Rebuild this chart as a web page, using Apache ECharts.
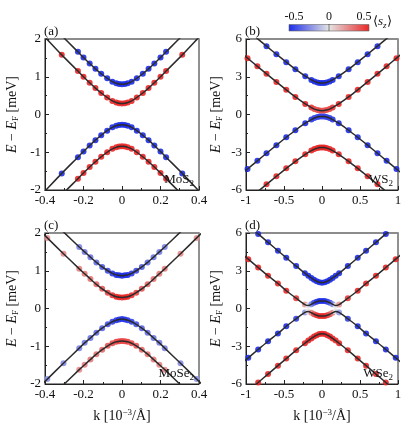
<!DOCTYPE html>
<html>
<head>
<meta charset="utf-8">
<script src="https://cdn.jsdelivr.net/npm/echarts@6/dist/echarts.min.js"></script>
<style>
html, body { margin: 0; padding: 0; background: #fff; }
#chart { width: 411px; height: 442px; }
</style>
</head>
<body>
<div id="chart"></div>
<script>
// k values in 10^-3 / Å (outermost points only extend the curves past the frame)
var kA = [-0.45, -0.4, -0.313, -0.229, -0.2, -0.168, -0.138, -0.108, -0.077, -0.05, -0.03, -0.015, 0, 0.015, 0.03, 0.05, 0.077, 0.108, 0.138, 0.168, 0.2, 0.229, 0.313, 0.4, 0.45];
var kB = [-1.1, -0.98, -0.85, -0.73, -0.6, -0.47, -0.35, -0.22, -0.14, -0.1, -0.06, -0.03, 0, 0.03, 0.06, 0.1, 0.14, 0.22, 0.35, 0.47, 0.6, 0.73, 0.85, 0.98, 1.1];
var kC = [-0.45, -0.388, -0.304, -0.222, -0.194, -0.164, -0.133, -0.103, -0.074, -0.05, -0.03, -0.015, 0, 0.015, 0.03, 0.05, 0.074, 0.103, 0.133, 0.164, 0.194, 0.222, 0.304, 0.388, 0.45];
var kD = [-1.1, -0.97, -0.84, -0.71, -0.58, -0.47, -0.34, -0.225, -0.18, -0.14, -0.105, -0.07, -0.035, 0, 0.035, 0.07, 0.105, 0.14, 0.18, 0.225, 0.34, 0.47, 0.58, 0.71, 0.84, 0.97, 1.1];

// (a) MoS2 bands, meV
var aBlueC = [2.83, 2.56, 2.09, 1.66, 1.51, 1.35, 1.21, 1.08, 0.96, 0.87, 0.83, 0.81, 0.80, 0.81, 0.83, 0.87, 0.96, 1.08, 1.21, 1.35, 1.51, 1.66, 2.09, 2.56, 2.83];
var aRedC = [2.32, 2.05, 1.58, 1.15, 1.00, 0.84, 0.70, 0.57, 0.45, 0.36, 0.32, 0.30, 0.29, 0.30, 0.32, 0.36, 0.45, 0.57, 0.70, 0.84, 1.00, 1.15, 1.58, 2.05, 2.32];
var aBlueV = [-2.30, -2.03, -1.56, -1.13, -0.98, -0.82, -0.68, -0.55, -0.43, -0.34, -0.30, -0.28, -0.27, -0.28, -0.30, -0.34, -0.43, -0.55, -0.68, -0.82, -0.98, -1.13, -1.56, -2.03, -2.30];
var aRedV = [-2.87, -2.60, -2.13, -1.70, -1.55, -1.39, -1.25, -1.12, -1.00, -0.91, -0.87, -0.85, -0.84, -0.85, -0.87, -0.91, -1.00, -1.12, -1.25, -1.39, -1.55, -1.70, -2.13, -2.60, -2.87];

// (b) WS2
var bBlueC = [7.28, 6.68, 6.03, 5.43, 4.79, 4.16, 3.60, 3.04, 2.75, 2.63, 2.55, 2.51, 2.50, 2.51, 2.55, 2.63, 2.75, 3.04, 3.60, 4.16, 4.79, 5.43, 6.03, 6.68, 7.28];
var bRedC = [5.08, 4.48, 3.83, 3.23, 2.59, 1.96, 1.40, 0.84, 0.55, 0.43, 0.35, 0.31, 0.30, 0.31, 0.35, 0.43, 0.55, 0.84, 1.40, 1.96, 2.59, 3.23, 3.83, 4.48, 5.08];
var bBlueV = [-4.93, -4.33, -3.68, -3.08, -2.44, -1.81, -1.25, -0.69, -0.40, -0.28, -0.20, -0.16, -0.15, -0.16, -0.20, -0.28, -0.40, -0.69, -1.25, -1.81, -2.44, -3.08, -3.68, -4.33, -4.93];
var bRedV = [-7.40, -6.80, -6.15, -5.55, -4.91, -4.28, -3.72, -3.16, -2.87, -2.75, -2.67, -2.63, -2.62, -2.63, -2.67, -2.75, -2.87, -3.16, -3.72, -4.28, -4.91, -5.55, -6.15, -6.80, -7.40];

// (c) MoSe2
var cBlueC = [2.76, 2.45, 2.03, 1.63, 1.50, 1.36, 1.22, 1.10, 1.00, 0.93, 0.89, 0.88, 0.87, 0.88, 0.89, 0.93, 1.00, 1.10, 1.22, 1.36, 1.50, 1.63, 2.03, 2.45, 2.76];
var cRedC = [2.18, 1.87, 1.45, 1.05, 0.92, 0.78, 0.64, 0.52, 0.42, 0.35, 0.31, 0.30, 0.29, 0.30, 0.31, 0.35, 0.42, 0.52, 0.64, 0.78, 0.92, 1.05, 1.45, 1.87, 2.18];
var cBlueV = [-2.18, -1.87, -1.45, -1.05, -0.91, -0.78, -0.64, -0.52, -0.42, -0.35, -0.31, -0.29, -0.28, -0.29, -0.31, -0.35, -0.42, -0.52, -0.64, -0.78, -0.91, -1.05, -1.45, -1.87, -2.18];
var cRedV = [-2.75, -2.44, -2.02, -1.62, -1.49, -1.35, -1.21, -1.09, -0.99, -0.92, -0.88, -0.87, -0.86, -0.87, -0.88, -0.92, -0.99, -1.09, -1.21, -1.35, -1.49, -1.62, -2.02, -2.44, -2.75];

// (d) WSe2
var dBlueC = [7.27, 6.60, 5.93, 5.26, 4.59, 4.03, 3.37, 2.81, 2.60, 2.43, 2.28, 2.17, 2.08, 2.05, 2.08, 2.17, 2.28, 2.43, 2.60, 2.81, 3.37, 4.03, 4.59, 5.26, 5.93, 6.60, 7.27];
var dMixC = [4.58, 3.92, 3.26, 2.60, 1.99, 1.41, 0.82, 0.31, 0.23, 0.34, 0.46, 0.54, 0.59, 0.60, 0.59, 0.54, 0.46, 0.34, 0.23, 0.31, 0.82, 1.41, 1.99, 2.60, 3.26, 3.92, 4.58];
var dMixV = [-4.58, -3.92, -3.26, -2.60, -1.99, -1.41, -0.82, -0.31, -0.23, -0.34, -0.46, -0.54, -0.59, -0.60, -0.59, -0.54, -0.46, -0.34, -0.23, -0.31, -0.82, -1.41, -1.99, -2.60, -3.26, -3.92, -4.58];
var dRedV = [-7.22, -6.55, -5.88, -5.21, -4.54, -3.98, -3.32, -2.76, -2.55, -2.38, -2.23, -2.12, -2.03, -2.00, -2.03, -2.12, -2.23, -2.38, -2.55, -2.76, -3.32, -3.98, -4.54, -5.21, -5.88, -6.55, -7.22];

// <s_z> of the marked points (inner points of each band)
var sA_blueC = [-0.5, -0.5, -0.5, -0.5, -0.5, -0.5, -0.5, -0.5, -0.5, -0.5, -0.5, -0.5, -0.5, -0.5, -0.5, -0.5, -0.5, -0.5, -0.5, -0.5, -0.5];
var sA_redC = [0.5, 0.5, 0.5, 0.5, 0.5, 0.5, 0.5, 0.5, 0.5, 0.5, 0.5, 0.5, 0.5, 0.5, 0.5, 0.5, 0.5, 0.5, 0.5, 0.5, 0.5];
var sA_blueV = [-0.5, -0.5, -0.5, -0.5, -0.5, -0.5, -0.5, -0.5, -0.5, -0.5, -0.5, -0.5, -0.5, -0.5, -0.5, -0.5, -0.5, -0.5, -0.5, -0.5, -0.5];
var sA_redV = [0.5, 0.5, 0.5, 0.5, 0.5, 0.5, 0.5, 0.5, 0.5, 0.5, 0.5, 0.5, 0.5, 0.5, 0.5, 0.5, 0.5, 0.5, 0.5, 0.5, 0.5];

var sB_blueC = [-0.5, -0.5, -0.5, -0.5, -0.5, -0.5, -0.5, -0.5, -0.5, -0.5, -0.5, -0.5, -0.5, -0.5, -0.5, -0.5, -0.5, -0.5, -0.5, -0.5, -0.5, -0.5, -0.5];
var sB_redC = [0.5, 0.5, 0.5, 0.5, 0.5, 0.5, 0.5, 0.46, 0.42, 0.4, 0.4, 0.4, 0.4, 0.4, 0.42, 0.46, 0.5, 0.5, 0.5, 0.5, 0.5, 0.5, 0.5];
var sB_blueV = [-0.5, -0.5, -0.5, -0.5, -0.5, -0.5, -0.5, -0.47, -0.45, -0.44, -0.44, -0.44, -0.44, -0.44, -0.45, -0.47, -0.5, -0.5, -0.5, -0.5, -0.5, -0.5, -0.5];
var sB_redV = [0.5, 0.5, 0.5, 0.5, 0.5, 0.5, 0.5, 0.5, 0.5, 0.5, 0.5, 0.5, 0.5, 0.5, 0.5, 0.5, 0.5, 0.5, 0.5, 0.5, 0.5, 0.5, 0.5];

var sC_blueC = [-0.22, -0.24, -0.26, -0.28, -0.3, -0.33, -0.37, -0.42, -0.47, -0.5, -0.5, -0.5, -0.5, -0.5, -0.47, -0.42, -0.37, -0.33, -0.3, -0.28, -0.26, -0.24, -0.22];
var sC_redC = [0.22, 0.24, 0.26, 0.28, 0.3, 0.33, 0.37, 0.42, 0.47, 0.5, 0.5, 0.5, 0.5, 0.5, 0.47, 0.42, 0.37, 0.33, 0.3, 0.28, 0.26, 0.24, 0.22];
var sC_blueV = [-0.22, -0.24, -0.26, -0.28, -0.3, -0.32, -0.35, -0.4, -0.44, -0.47, -0.48, -0.48, -0.48, -0.47, -0.44, -0.4, -0.35, -0.32, -0.3, -0.28, -0.26, -0.24, -0.22];
var sC_redV = [0.2, 0.22, 0.24, 0.26, 0.28, 0.3, 0.33, 0.37, 0.4, 0.42, 0.43, 0.43, 0.43, 0.42, 0.4, 0.37, 0.33, 0.3, 0.28, 0.26, 0.24, 0.22, 0.2];

var sD_blueC = [-0.5, -0.5, -0.5, -0.5, -0.5, -0.5, -0.5, -0.5, -0.5, -0.5, -0.5, -0.5, -0.5, -0.5, -0.5, -0.5, -0.5, -0.5, -0.5, -0.5, -0.5, -0.5, -0.5, -0.5, -0.5];
var sD_mixC = [0.5, 0.5, 0.5, 0.5, 0.5, 0.45, 0.2, 0, -0.25, -0.4, -0.47, -0.5, -0.5, -0.5, -0.47, -0.4, -0.25, 0, 0.2, 0.45, 0.5, 0.5, 0.5, 0.5, 0.5];
var sD_mixV = [-0.5, -0.5, -0.5, -0.5, -0.5, -0.45, -0.2, 0, 0.25, 0.4, 0.47, 0.5, 0.5, 0.5, 0.47, 0.4, 0.25, 0, -0.2, -0.45, -0.5, -0.5, -0.5, -0.5, -0.5];
var sD_redV = [0.5, 0.5, 0.5, 0.5, 0.5, 0.5, 0.5, 0.5, 0.5, 0.5, 0.5, 0.5, 0.5, 0.5, 0.5, 0.5, 0.5, 0.5, 0.5, 0.5, 0.5, 0.5, 0.5, 0.5, 0.5];

// axis ticks
var xTicksMo = [-0.4, -0.2, 0, 0.2, 0.4];
var xTicksW = [-1, -0.5, 0, 0.5, 1];
var yTicksMo = [-2, -1, 0, 1, 2];
var yTicksW = [-6, -3, 0, 3, 6];
var materials = ['MoS{s|2}', 'WS{s|2}', 'MoSe{s|2}', 'WSe{s|2}'];
var panelTags = ['(a)', '(b)', '(c)', '(d)'];
var spinTicks = ['-0.5', '0', '0.5'];

var FONT = 'Liberation Serif';
var spinColors = ['#1c2ce8', '#e4e4e4', '#ea2626'];

var panels = [
  { k: kA, pad: 2, xt: xTicksMo, yt: yTicksMo, rect: [45, 39, 154, 151],
    bands: [[aBlueC, sA_blueC], [aRedC, sA_redC], [aBlueV, sA_blueV], [aRedV, sA_redV]] },
  { k: kB, pad: 1, xt: xTicksW, yt: yTicksW, rect: [246, 39, 152, 151],
    bands: [[bBlueC, sB_blueC], [bRedC, sB_redC], [bBlueV, sB_blueV], [bRedV, sB_redV]] },
  { k: kC, pad: 1, xt: xTicksMo, yt: yTicksMo, rect: [45, 233, 154, 151],
    bands: [[cBlueC, sC_blueC], [cRedC, sC_redC], [cBlueV, sC_blueV], [cRedV, sC_redV]] },
  { k: kD, pad: 1, xt: xTicksW, yt: yTicksW, rect: [246, 233, 152, 151],
    bands: [[dBlueC, sD_blueC], [dMixC, sD_mixC], [dMixV, sD_mixV], [dRedV, sD_redV]] }
];

var grids = [], xAxes = [], yAxes = [], series = [], dotSeries = [], graphics = [];

var subRich = { fontFamily: FONT, fontSize: 9, color: '#111', padding: [7, 0, 0, 0] };

panels.forEach(function (p, g) {
  var r = p.rect;
  grids.push({ left: r[0], top: r[1], width: r[2], height: r[3], show: true,
    borderColor: '#222', borderWidth: 1, containLabel: false });

  var bottomRow = g >= 2;
  xAxes.push({
    type: 'value', gridIndex: g, position: 'bottom',
    min: p.xt[0], max: p.xt[p.xt.length - 1], interval: p.xt[1] - p.xt[0],
    axisLine: { onZero: false, lineStyle: { color: '#222', width: 1 } },
    axisTick: { inside: true, length: 4, lineStyle: { color: '#222' } },
    minorTick: { show: true, splitNumber: 2, length: 2, lineStyle: { color: '#222' } },
    splitLine: { show: false },
    axisLabel: { margin: 4, fontFamily: FONT, fontSize: 13, color: '#111' },
    name: bottomRow ? 'k [10{sup|\u22123}/\u00c5]' : '',
    nameLocation: 'middle', nameGap: 24,
    nameTextStyle: { fontFamily: FONT, fontSize: 14, color: '#111',
      rich: { sup: { fontFamily: FONT, fontSize: 9, color: '#111', padding: [0, 0, 8, 0] } } }
  });
  yAxes.push({
    type: 'value', gridIndex: g,
    min: p.yt[0], max: p.yt[p.yt.length - 1], interval: p.yt[1] - p.yt[0],
    axisLine: { onZero: false, lineStyle: { color: '#222', width: 1 } },
    axisTick: { inside: true, length: 4, lineStyle: { color: '#222' } },
    minorTick: { show: true, splitNumber: 2, length: 2, lineStyle: { color: '#222' } },
    splitLine: { show: false },
    axisLabel: { margin: 4, fontFamily: FONT, fontSize: 13, color: '#111' },
    name: '{it|E} \u2212 {it|E}{sub|F} [meV]',
    nameLocation: 'middle', nameGap: g % 2 ? 22 : 25, nameRotate: 90,
    nameTextStyle: { fontFamily: FONT, fontSize: 14, color: '#111',
      rich: { it: { fontFamily: FONT, fontSize: 14, fontStyle: 'italic', color: '#111' }, sub: subRich } }
  });

  p.bands.forEach(function (b) {
    var E = b[0], sz = b[1];
    var line = p.k.map(function (k, i) { return [k, E[i]]; });
    var dots = sz.map(function (s, j) { var i = j + p.pad; return [p.k[i], E[i], s]; });
    dotSeries.push(series.length);
    series.push({ type: 'scatter', xAxisIndex: g, yAxisIndex: g, data: dots,
      symbolSize: 6, itemStyle: { opacity: 0.9 }, z: 2, silent: true });
    series.push({ type: 'line', xAxisIndex: g, yAxisIndex: g, data: line,
      smooth: 0.25, showSymbol: false, symbol: 'none',
      lineStyle: { color: '#2b2b2b', width: 1.5 }, z: 3, silent: true });
  });

  graphics.push({ type: 'text', x: r[0] - 1, y: r[1] - 1, z: 10,
    style: { text: panelTags[g], font: '13px "' + FONT + '"', fill: '#111',
      align: 'left', verticalAlign: 'bottom', textAlign: 'left', textVerticalAlign: 'bottom' } });
  graphics.push({ type: 'text', x: r[0] + r[2] - 5, y: r[1] + r[3] - 2, z: 10,
    style: { text: materials[g], font: '13px "' + FONT + '"', fill: '#111',
      align: 'right', verticalAlign: 'bottom', textAlign: 'right', textVerticalAlign: 'bottom',
      rich: { s: { fontFamily: FONT, fontSize: 9, fill: '#111', color: '#111', padding: [7, 0, 0, 0] } } } });
});

// top edges drawn in grey as in the original frame
panels.forEach(function (p, g) {
  xAxes.push({ type: 'value', gridIndex: g, position: 'top',
    min: p.xt[0], max: p.xt[p.xt.length - 1],
    axisLine: { onZero: false, lineStyle: { color: '#8c8c8c', width: 2 } },
    axisTick: { show: false }, axisLabel: { show: false }, splitLine: { show: false } });
});

// colour bar for <s_z>
var bar = { x: 289, y: 24.5, w: 80, h: 6.5 };
graphics.push({ type: 'rect', z: 10,
  shape: { x: bar.x, y: bar.y, width: bar.w, height: bar.h },
  style: { fill: new echarts.graphic.LinearGradient(0, 0, 1, 0, [
      { offset: 0, color: spinColors[0] }, { offset: 0.5, color: spinColors[1] }, { offset: 1, color: spinColors[2] }]),
    stroke: '#666', lineWidth: 0.6 } });
graphics.push({ type: 'line', z: 11,
  shape: { x1: bar.x + bar.w / 2, y1: bar.y, x2: bar.x + bar.w / 2, y2: bar.y + bar.h },
  style: { stroke: '#111', lineWidth: 1, lineDash: [1, 1] } });
spinTicks.forEach(function (t, i) {
  graphics.push({ type: 'text', z: 10, x: bar.x + 5 + i * (bar.w - 10) / 2, y: bar.y - 2,
    style: { text: t, font: '12px "' + FONT + '"', fill: '#111',
      align: 'center', verticalAlign: 'bottom', textAlign: 'center', textVerticalAlign: 'bottom' } });
});
graphics.push({ type: 'text', z: 10, x: 373, y: 22,
  style: { text: '\u27e8{i|s}{sub|z}\u27e9', font: '13px "' + FONT + '"', fill: '#111',
    align: 'left', verticalAlign: 'middle', textAlign: 'left', textVerticalAlign: 'middle',
    rich: { i: { fontFamily: FONT, fontSize: 13, fontStyle: 'italic', fill: '#111', color: '#111' },
      sub: { fontFamily: FONT, fontSize: 9, fontStyle: 'italic', fill: '#111', color: '#111', padding: [7, 0, 0, 0] } } } });

var chart = echarts.init(document.getElementById('chart'), null, { renderer: 'canvas' });
chart.setOption({
  animation: false,
  backgroundColor: '#fff',
  grid: grids,
  xAxis: xAxes,
  yAxis: yAxes,
  visualMap: {
    type: 'continuous', show: false, min: -0.5, max: 0.5, dimension: 2,
    seriesIndex: dotSeries, inRange: { color: spinColors }
  },
  graphic: graphics,
  series: series
});
</script>
</body>
</html>
